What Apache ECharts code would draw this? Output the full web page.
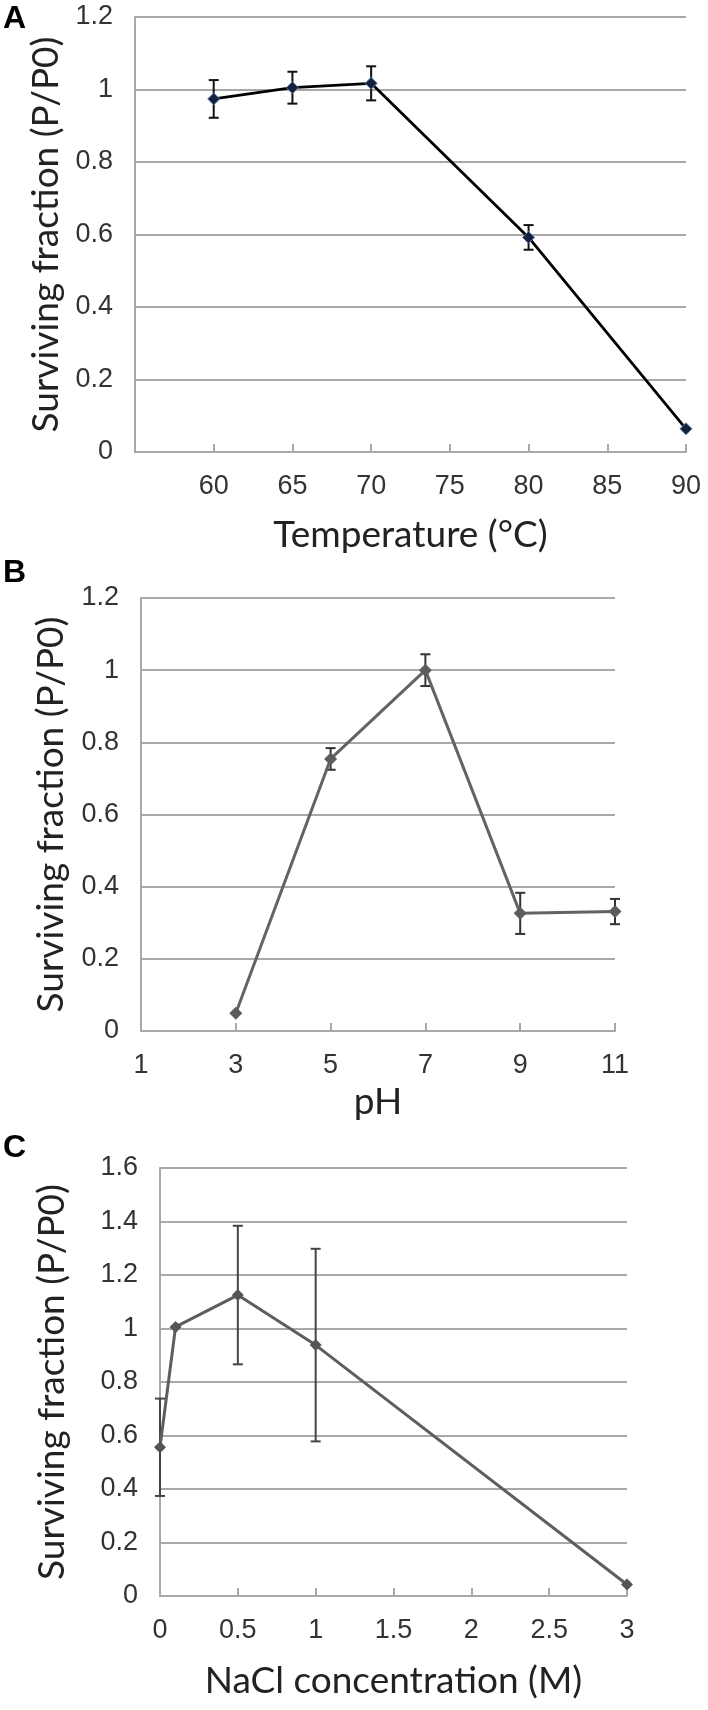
<!DOCTYPE html>
<html>
<head>
<meta charset="utf-8">
<script src="https://cdn.jsdelivr.net/npm/echarts@6/dist/echarts.min.js"></script>
<style>
html,body{margin:0;padding:0;background:#fff;}
#chart{width:708px;height:1710px;}
</style>
</head>
<body>
<div id="chart"></div>
<script>
// ---- Data ----
const tempX = [60, 65, 70, 80, 90];
const tempY = [0.974, 1.005, 1.017, 0.592, 0.064];
const tempErr = [0.052, 0.044, 0.047, 0.034, 0];

const phX = [3, 5, 7, 9, 11];
const phY = [0.049, 0.754, 1.0, 0.326, 0.331];
const phErr = [0, 0.03, 0.044, 0.057, 0.035];

const naclX = [0, 0.1, 0.5, 1, 3];
const naclY = [0.556, 1.006, 1.125, 0.938, 0.043];
const naclErr = [0.182, 0, 0.259, 0.36, 0];

const panelLetters = ['A', 'B', 'C'];
const yTitle = 'Surviving fraction (P/P0)';
const xTitles = ['Temperature (°C)', 'pH', 'NaCl concentration (M)'];

// ---- Styles ----
const tickFont = "'Liberation Sans', Arial, sans-serif";
const titleFont = "Lato, 'Open Sans', sans-serif";
const gridCol = '#a8a8a8';

function pts(xs, ys) { return xs.map((x, i) => [x, ys[i]]); }
function errPts(xs, ys, es) { return xs.map((x, i) => [x, ys[i], es[i]]); }

function errRender(color, width, cap) {
  return function (params, api) {
    const x = api.value(0), y = api.value(1), e = api.value(2);
    if (!e) return;
    const t = api.coord([x, y + e]);
    const b = api.coord([x, y - e]);
    const st = { stroke: color, lineWidth: width };
    return {
      type: 'group',
      children: [
        { type: 'line', shape: { x1: t[0], y1: t[1], x2: b[0], y2: b[1] }, style: st },
        { type: 'line', shape: { x1: t[0] - cap, y1: t[1], x2: t[0] + cap, y2: t[1] }, style: st },
        { type: 'line', shape: { x1: b[0] - cap, y1: b[1], x2: b[0] + cap, y2: b[1] }, style: st }
      ]
    };
  };
}

function xAxisCfg(idx, min, max, interval, name, nameGap, hideFirst) {
  return {
    type: 'value', gridIndex: idx, min: min, max: max, interval: interval,
    name: name, nameLocation: 'middle', nameGap: nameGap,
    nameTextStyle: { fontFamily: titleFont, fontSize: 37, color: '#222' },
    axisLine: { show: true, lineStyle: { color: gridCol, width: 2 } },
    axisTick: { show: true, inside: true, length: 8, lineStyle: { color: gridCol, width: 2 } },
    splitLine: { show: false },
    axisLabel: {
      margin: 21, fontFamily: tickFont, fontSize: 27, color: '#333',
      formatter: function (v) { return (hideFirst && v === min) ? '' : String(v); }
    }
  };
}

function yAxisCfg(idx, max, nameGap) {
  return {
    type: 'value', gridIndex: idx, min: 0, max: max, interval: 0.2,
    name: yTitle, nameLocation: 'middle', nameGap: nameGap,
    nameTextStyle: { fontFamily: titleFont, fontSize: 37, color: '#222' },
    axisLine: { show: true, lineStyle: { color: gridCol, width: 2 } },
    axisTick: { show: false },
    splitLine: { show: true, lineStyle: { color: gridCol, width: 2 } },
    axisLabel: { margin: 22, fontFamily: tickFont, fontSize: 27, color: '#333' }
  };
}

function letter(txt, y) {
  return {
    type: 'text', left: 3, top: y,
    style: { text: txt, fontFamily: "'Liberation Sans', Arial, sans-serif", fontWeight: 'bold', fontSize: 32, fill: '#000' }
  };
}

const chart = echarts.init(document.getElementById('chart'), null, { renderer: 'canvas' });

chart.setOption({
  backgroundColor: '#fff',
  animation: false,
  grid: [
    { left: 135, width: 551, top: 17, height: 435 },
    { left: 141, width: 474, top: 598, height: 433 },
    { left: 160, width: 467, top: 1168, height: 428 }
  ],
  xAxis: [
    xAxisCfg(0, 55, 90, 5, xTitles[0], 65, true),
    xAxisCfg(1, 1, 11, 2, xTitles[1], 53, false),
    xAxisCfg(2, 0, 3, 0.5, xTitles[2], 67, false)
  ],
  yAxis: [
    yAxisCfg(0, 1.2, 67),
    yAxisCfg(1, 1.2, 71),
    yAxisCfg(2, 1.6, 89)
  ],
  graphic: [
    letter(panelLetters[0], 3),
    letter(panelLetters[1], 557),
    letter(panelLetters[2], 1132)
  ],
  series: [
    {
      type: 'custom', xAxisIndex: 0, yAxisIndex: 0, z: 3,
      renderItem: errRender('#111', 2, 5), data: errPts(tempX, tempY, tempErr)
    },
    {
      type: 'line', xAxisIndex: 0, yAxisIndex: 0, z: 4,
      data: pts(tempX, tempY), symbol: 'diamond', symbolSize: 12,
      lineStyle: { color: '#000', width: 2.8 },
      itemStyle: { color: '#14213d', borderColor: '#5a7aaa', borderWidth: 1 }
    },
    {
      type: 'custom', xAxisIndex: 1, yAxisIndex: 1, z: 3,
      renderItem: errRender('#333', 2, 5), data: errPts(phX, phY, phErr)
    },
    {
      type: 'line', xAxisIndex: 1, yAxisIndex: 1, z: 4,
      data: pts(phX, phY), symbol: 'diamond', symbolSize: 13,
      lineStyle: { color: '#636363', width: 3 },
      itemStyle: { color: '#5c5c5c' }
    },
    {
      type: 'custom', xAxisIndex: 2, yAxisIndex: 2, z: 3,
      renderItem: errRender('#444', 2, 5), data: errPts(naclX, naclY, naclErr)
    },
    {
      type: 'line', xAxisIndex: 2, yAxisIndex: 2, z: 4,
      data: pts(naclX, naclY), symbol: 'diamond', symbolSize: 12,
      lineStyle: { color: '#5e5e5e', width: 3 },
      itemStyle: { color: '#555' }
    }
  ]
});
</script>
</body>
</html>
